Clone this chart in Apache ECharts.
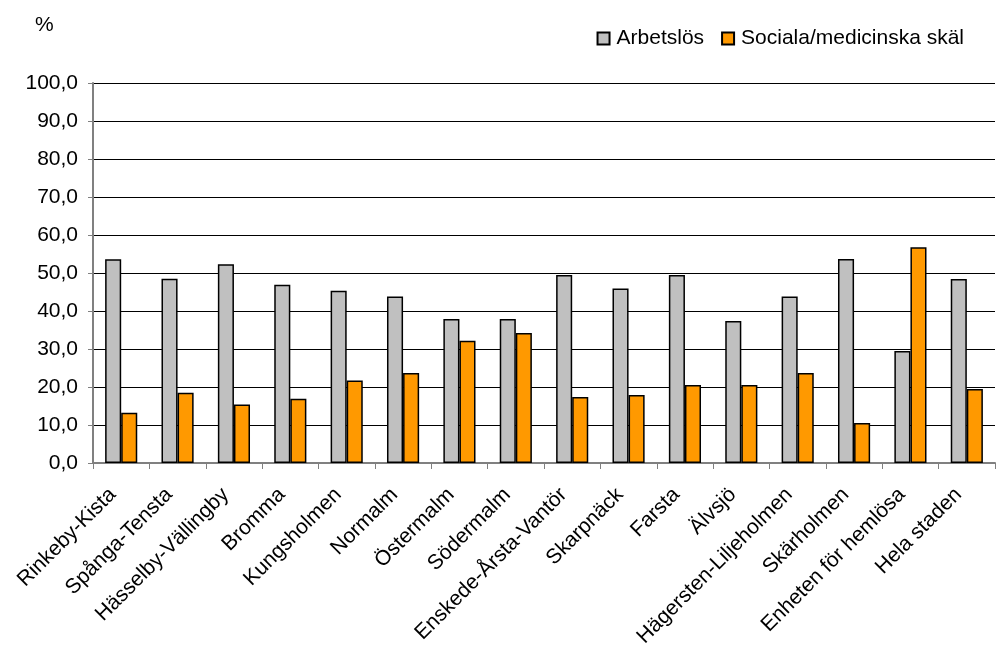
<!DOCTYPE html>
<html><head><meta charset="utf-8">
<script src="https://cdn.jsdelivr.net/npm/echarts@6/dist/echarts.min.js"></script>
<style>html,body{margin:0;padding:0;background:#fff}#c{width:997px;height:651px}</style>
</head><body><div id="c"></div>
<script>
const categories = ["Rinkeby-Kista","Spånga-Tensta","Hässelby-Vällingby","Bromma","Kungsholmen","Normalm","Östermalm","Södermalm","Enskede-Årsta-Vantör","Skarpnäck","Farsta","Älvsjö","Hägersten-Liljeholmen","Skärholmen","Enheten för hemlösa","Hela staden"];
const arbetslos = [53.6,48.5,52.3,46.9,45.3,43.8,37.9,37.9,49.5,45.9,49.5,37.4,43.8,53.7,29.5,48.4];
const sociala = [13.2,18.5,15.4,16.9,21.7,23.7,32.2,34.2,17.4,17.9,20.5,20.5,23.7,10.5,56.8,19.5];
const yTicks = [0,10,20,30,40,50,60,70,80,90,100];

const font = "Liberation Sans, Arial, sans-serif";
const chart = echarts.init(document.getElementById('c'));
chart.setOption({
  animation:false,
  textStyle:{fontFamily:font},
  graphic:[{type:'text',left:35,top:15,style:{text:'%',font:'21px '+font,fill:'#000'}}],
  legend:{
    top:23,right:28,itemWidth:12,itemHeight:12,itemGap:17,
    textStyle:{fontSize:21,color:'#000',fontFamily:font,padding:[0,0,0,2]},
    data:[{name:'Arbetslös',icon:'rect'},{name:'Sociala/medicinska skäl',icon:'rect'}]
  },
  grid:{left:93,right:2,top:83,bottom:188,containLabel:false},
  xAxis:{
    type:'category',data:categories,
    axisLine:{lineStyle:{color:'#808080',width:2}},
    axisTick:{show:true,length:6,lineStyle:{color:'#808080',width:1}},
    axisLabel:{rotate:45,fontSize:21,color:'#000',fontFamily:font,margin:20,interval:0,padding:[0,12,0,0]}
  },
  yAxis:{
    type:'value',min:yTicks[0],max:yTicks[yTicks.length-1],interval:10,
    axisLine:{show:true,lineStyle:{color:'#808080',width:2}},
    axisTick:{show:true,length:5,lineStyle:{color:'#808080'}},
    splitLine:{lineStyle:{color:'#000',width:1}},
    axisLabel:{fontSize:21,color:'#000',fontFamily:font,margin:15,
      formatter:v=>v.toFixed(1).replace('.',',')}
  },
  series:[
    {name:'Arbetslös',type:'bar',data:arbetslos,barGap:'0%',barCategoryGap:'43%',
     itemStyle:{color:'#c0c0c0',borderColor:'#000',borderWidth:1.5}},
    {name:'Sociala/medicinska skäl',type:'bar',data:sociala,barGap:'0%',barCategoryGap:'43%',
     itemStyle:{color:'#ff9900',borderColor:'#000',borderWidth:1.5}}
  ]
});
</script></body></html>
